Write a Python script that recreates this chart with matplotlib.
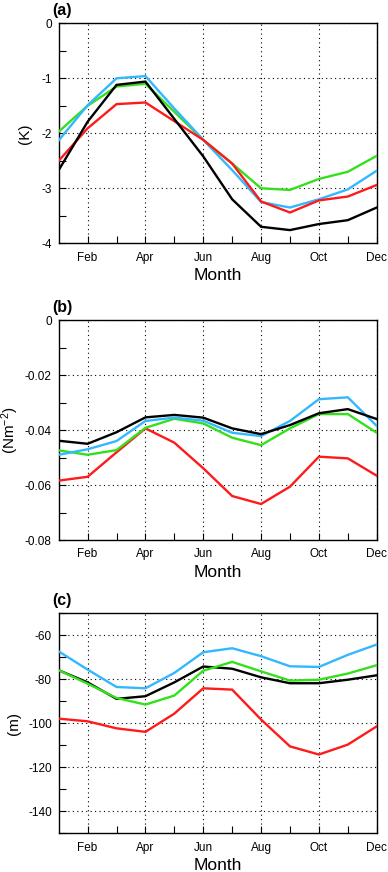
import matplotlib
matplotlib.use("Agg")
import matplotlib.pyplot as plt
from matplotlib.ticker import MultipleLocator

months = list(range(1, 13))
tick_months = [2, 4, 6, 8, 10, 12]
tick_labels = ["Feb", "Apr", "Jun", "Aug", "Oct", "Dec"]

# Panel (a) (K)
a_black = [-2.67, -1.79, -1.12, -1.06, -1.74, -2.42, -3.20, -3.70, -3.76, -3.65, -3.58, -3.35]
a_red   = [-2.50, -1.91, -1.47, -1.44, -1.78, -2.12, -2.55, -3.24, -3.44, -3.22, -3.15, -2.94]
a_green = [-1.97, -1.50, -1.15, -1.10, -1.61, -2.12, -2.55, -3.00, -3.03, -2.83, -2.70, -2.41]
a_cyan  = [-2.13, -1.49, -1.00, -0.96, -1.55, -2.12, -2.67, -3.25, -3.35, -3.20, -3.02, -2.68]

# Panel (b) (Nm-2)
b_black = [-0.0439, -0.0450, -0.0408, -0.0354, -0.0345, -0.0355, -0.0394, -0.0415, -0.0382, -0.0339, -0.0324, -0.0360]
b_red   = [-0.0584, -0.0570, -0.0481, -0.0394, -0.0446, -0.0539, -0.0640, -0.0669, -0.0606, -0.0497, -0.0503, -0.0566]
b_green = [-0.0474, -0.0490, -0.0473, -0.0392, -0.0359, -0.0376, -0.0428, -0.0455, -0.0394, -0.0342, -0.0342, -0.0410]
b_cyan  = [-0.0490, -0.0470, -0.0440, -0.0367, -0.0355, -0.0366, -0.0410, -0.0422, -0.0367, -0.0288, -0.0281, -0.0385]

# Panel (c) (m)
c_black = [-75.9, -81.4, -88.9, -87.7, -81.4, -74.2, -75.2, -79.1, -81.8, -81.8, -80.2, -78.2]
c_red   = [-97.9, -99.1, -102.3, -103.9, -95.6, -84.1, -84.7, -98.3, -110.5, -114.2, -109.7, -101.4]
c_green = [-75.9, -82.0, -88.5, -91.5, -87.4, -76.1, -72.1, -76.4, -80.6, -80.2, -77.4, -73.6]
c_cyan  = [-67.3, -75.6, -83.5, -84.1, -77.1, -67.7, -65.9, -69.5, -74.1, -74.4, -68.9, -64.2]

colors = {"black": "#000000", "red": "#ff1a1a", "green": "#33e01a", "cyan": "#33b8ff"}

panels = [
    dict(label="(a)", ylabel="(K)", ylim=(-4, 0), major=1, minor=0.5, labx=-0.085,
         fmt=lambda v: f"{v:g}",
         series=[("green", a_green), ("cyan", a_cyan), ("red", a_red), ("black", a_black)],
         rect=[0.1513, 0.721, 0.8196, 0.2523]),
    dict(label="(b)", ylabel="(Nm$^{-2}$)", ylim=(-0.08, 0), major=0.02, minor=0.01, labx=-0.12,
         fmt=lambda v: "0" if abs(v) < 1e-9 else f"{v:.2f}",
         series=[("red", b_red), ("green", b_green), ("cyan", b_cyan), ("black", b_black)],
         rect=[0.1513, 0.3807, 0.8196, 0.2523]),
    dict(label="(c)", ylabel="(m)", ylim=(-150, -50), major=20, minor=10, labx=-0.12,
         fmt=lambda v: f"{v:g}",
         series=[("red", c_red), ("black", c_black), ("green", c_green), ("cyan", c_cyan)],
         rect=[0.1513, 0.0444, 0.8196, 0.2523]),
]

fig = plt.figure(figsize=(3.88, 8.72), dpi=100)
plt.rcParams["font.family"] = ["Liberation Sans", "DejaVu Sans"]
plt.rcParams["mathtext.default"] = "regular"

for p in panels:
    ax = fig.add_axes(p["rect"])
    for cname, vals in p["series"]:
        ax.plot(months, vals, color=colors[cname], lw=1.7, solid_joinstyle="miter", zorder=3)
    ax.set_xlim(1, 12)
    ax.set_ylim(*p["ylim"])
    ax.set_xticks(tick_months)
    ax.set_xticklabels(tick_labels)
    ax.set_xticks([3, 5, 7, 9, 11], minor=True)
    ax.yaxis.set_major_locator(MultipleLocator(p["major"]))
    ax.yaxis.set_minor_locator(MultipleLocator(p["minor"]))
    ax.set_yticklabels([p["fmt"](v) for v in ax.get_yticks()])
    ax.set_ylim(*p["ylim"])
    ax.tick_params(axis="both", which="both", direction="in", top=False, right=False,
                   labelsize=8.5)
    ax.tick_params(axis="both", which="major", length=5, width=0.8)
    ax.tick_params(axis="both", which="minor", length=5, width=0.8)
    ax.tick_params(axis="x", pad=6)
    ax.tick_params(axis="y", pad=5)
    ax.grid(True, which="major", linestyle=(0, (1, 3)), color="black", linewidth=0.8)
    for s in ax.spines.values():
        s.set_linewidth(1.0)
    ax.set_xlabel("Month", fontsize=12.5, labelpad=3)
    ax.set_ylabel(p["ylabel"], fontsize=11)
    ax.yaxis.set_label_coords(p["labx"], 0.5)
    ax.text(-0.02, 1.025, p["label"], transform=ax.transAxes, fontsize=11.5,
            fontweight="bold", ha="left", va="bottom")

fig.savefig("out.png", dpi=100)
